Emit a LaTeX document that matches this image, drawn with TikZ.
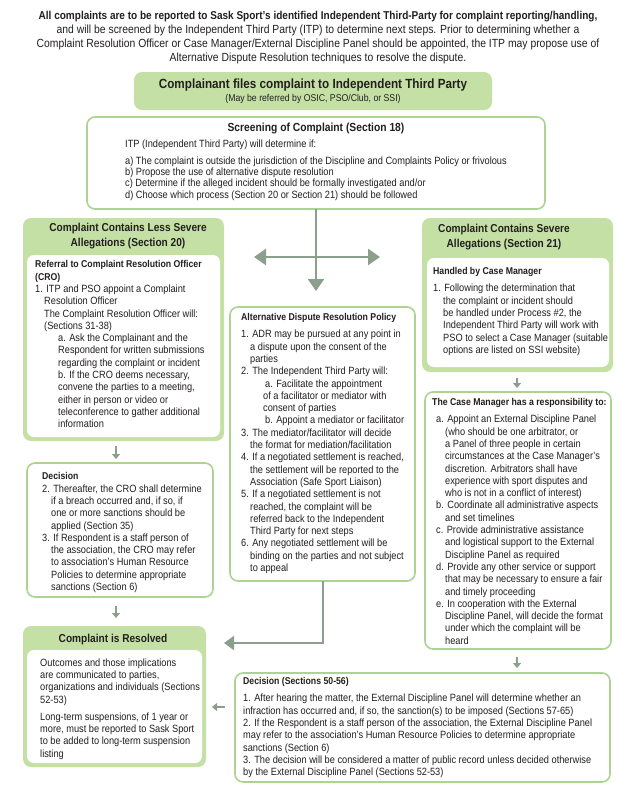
\documentclass[tikz,border=0pt]{standalone}
\usepackage{fontspec}
\setmainfont{Liberation Sans}[FakeStretch=0.88]
\usetikzlibrary{arrows.meta,calc}
\definecolor{gfill}{HTML}{C5E0A5}
\definecolor{gline}{HTML}{ADD393}
\definecolor{arr}{HTML}{8AA08C}
\definecolor{ink}{HTML}{231F20}
\newcommand\bhd[1]{{\fontsize{9.9}{12.3}\selectfont\bfseries #1}}
\begin{document}
\begin{tikzpicture}[x=1pt,y=-1pt,
  box/.style={rounded corners=8pt, inner sep=0pt, outer sep=0pt, anchor=north west},
  greenbox/.style={box, fill=gfill},
  innerbox/.style={box, rounded corners=7pt, fill=white},
  linebox/.style={box, fill=white, draw=gline, line width=1.6pt},
  body/.style={inner sep=0pt, anchor=north west, align=left, text=ink, font=\fontsize{10.5}{12.3}\selectfont},
  ttl/.style={inner sep=0pt, text=ink, font=\fontsize{11.5}{15}\selectfont\bfseries, align=center},
  bigarr/.style={draw=arr, line width=2.4pt, -{Triangle[length=12pt,width=16pt]}},
  midarr/.style={draw=arr, line width=2pt, -{Triangle[length=10pt,width=14pt]}},
  smallarr/.style={draw=arr, line width=1.4pt, -{Triangle[length=5pt,width=8pt]}}
]
\useasboundingbox (0,0) rectangle (625,790);
\fill[white] (0,0) rectangle (625,790);

% header
\node[inner sep=0pt, anchor=north, align=center, text=ink, font=\fontsize{11.8}{14}\selectfont] (hdr) at (318,11.5)
 {{\fontsize{11.4}{14}\selectfont\bfseries All complaints are to be reported to Sask Sport’s identified Independent Third-Party for complaint reporting/handling,}\\
  and will be screened by the Independent Third Party (ITP) to determine next steps. Prior to determining whether a\\
  Complaint Resolution Officer or Case Manager/External Discipline Panel should be appointed, the ITP may propose use of\\
  Alternative Dispute Resolution techniques to resolve the dispute.};

% boxes
\node[greenbox, minimum width=358, minimum height=38] (top) at (134,72) {};
\node[linebox, minimum width=458, minimum height=92] (screen) at (87,117) {};
\node[greenbox, minimum width=201, minimum height=223] (lgreen) at (23,218) {};
\node[innerbox, minimum width=193, minimum height=182] (linner) at (27,255) {};
\node[greenbox, minimum width=191, minimum height=154] (rgreen) at (422,218) {};
\node[innerbox, minimum width=182, minimum height=109] (rinner) at (427,258) {};
\node[linebox, minimum width=185, minimum height=274] (adr) at (230,307) {};
\node[linebox, minimum width=186, minimum height=134] (ldec) at (27,463) {};
\node[linebox, minimum width=186, minimum height=257] (cm) at (425,392) {};
\node[greenbox, minimum width=183, minimum height=141] (resg) at (23,626) {};
\node[innerbox, minimum width=175, minimum height=113] (resin) at (27,650) {};
\node[linebox, minimum width=375, minimum height=109] (edec) at (235,673) {};

% top box text
\node[inner sep=0pt, anchor=base, text=ink, font=\fontsize{13.3}{15}\selectfont\bfseries] (toptitle) at (313,88.5) {Complainant files complaint to Independent Third Party};
\node[inner sep=0pt, anchor=base, text=ink, font=\fontsize{9.9}{11}\selectfont] (topsub) at (313,101.5) {(May be referred by OSIC, PSO/Club, or SSI)};

% screening
\node[inner sep=0pt, anchor=base, text=ink, font=\fontsize{11.7}{13}\selectfont\bfseries] (scrtitle) at (316,131.5) {Screening of Complaint (Section 18)};
\node[body, font=\fontsize{10.5}{11.3}\selectfont] (scrtext) at (125,139.5)
 {ITP (Independent Third Party) will determine if:\\[5.7pt]
  a) The complaint is outside the jurisdiction of the Discipline and Complaints Policy or frivolous\\
  b) Propose the use of alternative dispute resolution\\
  c) Determine if the alleged incident should be formally investigated and/or\\
  d) Choose which process (Section 20 or Section 21) should be followed};

% left green
\node[ttl, anchor=north] (ltitle) at (128,222.5) {Complaint Contains Less Severe\\Allegations (Section 20)};
\node[body] (ltext) at (35,260.5)
 {\bhd{Referral to Complaint Resolution Officer}\\
  \bhd{(CRO)}\\
  1. ITP and PSO appoint a Complaint\\
  \hspace*{9pt}Resolution Officer\\
  \hspace*{9pt}The Complaint Resolution Officer will:\\
  \hspace*{9pt}(Sections 31-38)\\
  \hspace*{23pt}a. Ask the Complainant and the\\
  \hspace*{23pt}Respondent for written submissions\\
  \hspace*{23pt}regarding the complaint or incident\\
  \hspace*{23pt}b. If the CRO deems necessary,\\
  \hspace*{23pt}convene the parties to a meeting,\\
  \hspace*{23pt}either in person or video or\\
  \hspace*{23pt}teleconference to gather additional\\
  \hspace*{23pt}information};

% right green
\node[ttl, anchor=north] (rtitle) at (504,224) {Complaint Contains Severe\\Allegations (Section 21)};
\node[body] (rtext) at (433,267.5)
 {\bhd{Handled by Case Manager}\\[4.7pt]
  1. Following the determination that\\
  \hspace*{10pt}the complaint or incident should\\
  \hspace*{10pt}be handled under Process \#2, the\\
  \hspace*{10pt}Independent Third Party will work with\\
  \hspace*{10pt}PSO to select a Case Manager (suitable\\
  \hspace*{10pt}options are listed on SSI website)};

% ADR
\node[body] (adrtext) at (241,313.5)
 {\bhd{Alternative Dispute Resolution Policy}\\[4.7pt]
  1. ADR may be pursued at any point in\\
  \hspace*{9pt}a dispute upon the consent of the\\
  \hspace*{9pt}parties\\
  2. The Independent Third Party will:\\
  \hspace*{24pt}a. Facilitate the appointment\\
  \hspace*{22pt}of a facilitator or mediator with\\
  \hspace*{22pt}consent of parties\\
  \hspace*{24pt}b. Appoint a mediator or facilitator\\
  3. The mediator/facilitator will decide\\
  \hspace*{9pt}the format for mediation/facilitation\\
  4. If a negotiated settlement is reached,\\
  \hspace*{9pt}the settlement will be reported to the\\
  \hspace*{9pt}Association (Safe Sport Liaison)\\
  5. If a negotiated settlement is not\\
  \hspace*{9pt}reached, the complaint will be\\
  \hspace*{9pt}referred back to the Independent\\
  \hspace*{9pt}Third Party for next steps\\
  6. Any negotiated settlement will be\\
  \hspace*{9pt}binding on the parties and not subject\\
  \hspace*{9pt}to appeal};

% left decision
\node[body] (ldectext) at (42,472.5)
 {\bhd{Decision}\\
  2. Thereafter, the CRO shall determine\\
  \hspace*{9pt}if a breach occurred and, if so, if\\
  \hspace*{9pt}one or more sanctions should be\\
  \hspace*{9pt}applied (Section 35)\\
  3. If Respondent is a staff person of\\
  \hspace*{9pt}the association, the CRO may refer\\
  \hspace*{9pt}to association’s Human Resource\\
  \hspace*{9pt}Policies to determine appropriate\\
  \hspace*{9pt}sanctions (Section 6)};

% case manager
\node[body] (cmtext) at (432,398.5)
 {\bhd{The Case Manager has a responsibility to:}\\[4.7pt]
  \hspace*{4pt}a. Appoint an External Discipline Panel\\
  \hspace*{13pt}(who should be one arbitrator, or\\
  \hspace*{13pt}a Panel of three people in certain\\
  \hspace*{13pt}circumstances at the Case Manager’s\\
  \hspace*{13pt}discretion. Arbitrators shall have\\
  \hspace*{13pt}experience with sport disputes and\\
  \hspace*{13pt}who is not in a conflict of interest)\\
  \hspace*{4pt}b. Coordinate all administrative aspects\\
  \hspace*{13pt}and set timelines\\
  \hspace*{4pt}c. Provide administrative assistance\\
  \hspace*{13pt}and logistical support to the External\\
  \hspace*{13pt}Discipline Panel as required\\
  \hspace*{4pt}d. Provide any other service or support\\
  \hspace*{13pt}that may be necessary to ensure a fair\\
  \hspace*{13pt}and timely proceeding\\
  \hspace*{4pt}e. In cooperation with the External\\
  \hspace*{13pt}Discipline Panel, will decide the format\\
  \hspace*{13pt}under which the complaint will be\\
  \hspace*{13pt}heard};

% resolved
\node[ttl, anchor=base] (restitle) at (113,642) {Complaint is Resolved};
\node[body] (restext) at (40,658.5)
 {Outcomes and those implications\\
  are communicated to parties,\\
  organizations and individuals (Sections\\
  52-53)\\[4.7pt]
  Long-term suspensions, of 1 year or\\
  more, must be reported to Sask Sport\\
  to be added to long-term suspension\\
  listing};

% external decision
\node[body] (edectext) at (243,677.5)
 {\bhd{Decision (Sections 50-56)}\\[4.7pt]
  1. After hearing the matter, the External Discipline Panel will determine whether an\\
  infraction has occurred and, if so, the sanction(s) to be imposed (Sections 57-65)\\
  2. If the Respondent is a staff person of the association, the External Discipline Panel\\
  may refer to the association’s Human Resource Policies to determine appropriate\\
  sanctions (Section 6)\\
  3. The decision will be considered a matter of public record unless decided otherwise\\
  by the External Discipline Panel (Sections 52-53)};

% connectors
\coordinate (dtip) at (316,291);
\coordinate (hl) at (254,257);
\coordinate (hr) at (380,257);
\draw[bigarr] (screen.south) -- (dtip);
\draw[draw=arr, line width=2.4pt, {Triangle[length=12pt,width=16pt]}-{Triangle[length=12pt,width=16pt]}] (hl) -- (hr);

\coordinate (xl) at (116,0);
\coordinate (xr) at (517,0);
\draw[smallarr, shorten <=5pt, shorten >=4pt] (lgreen.south -| xl) -- (ldec.north -| xl);
\draw[smallarr, shorten <=9pt, shorten >=8pt] (ldec.south -| xl) -- (resg.north -| xl);
\draw[smallarr, shorten <=6pt, shorten >=4pt] (rgreen.south -| xr) -- (cm.north -| xr);
\draw[smallarr, shorten <=8pt, shorten >=5pt] (cm.south -| xr) -- (edec.north -| xr);

\coordinate (restip) at (224,643);
\draw[midarr] (adr.south) |- (restip);
\coordinate (yr) at (0,707);
\draw[smallarr, shorten <=10pt, shorten >=6pt] (edec.west |- yr) -- (resg.east |- yr);
\end{tikzpicture}
\end{document}
